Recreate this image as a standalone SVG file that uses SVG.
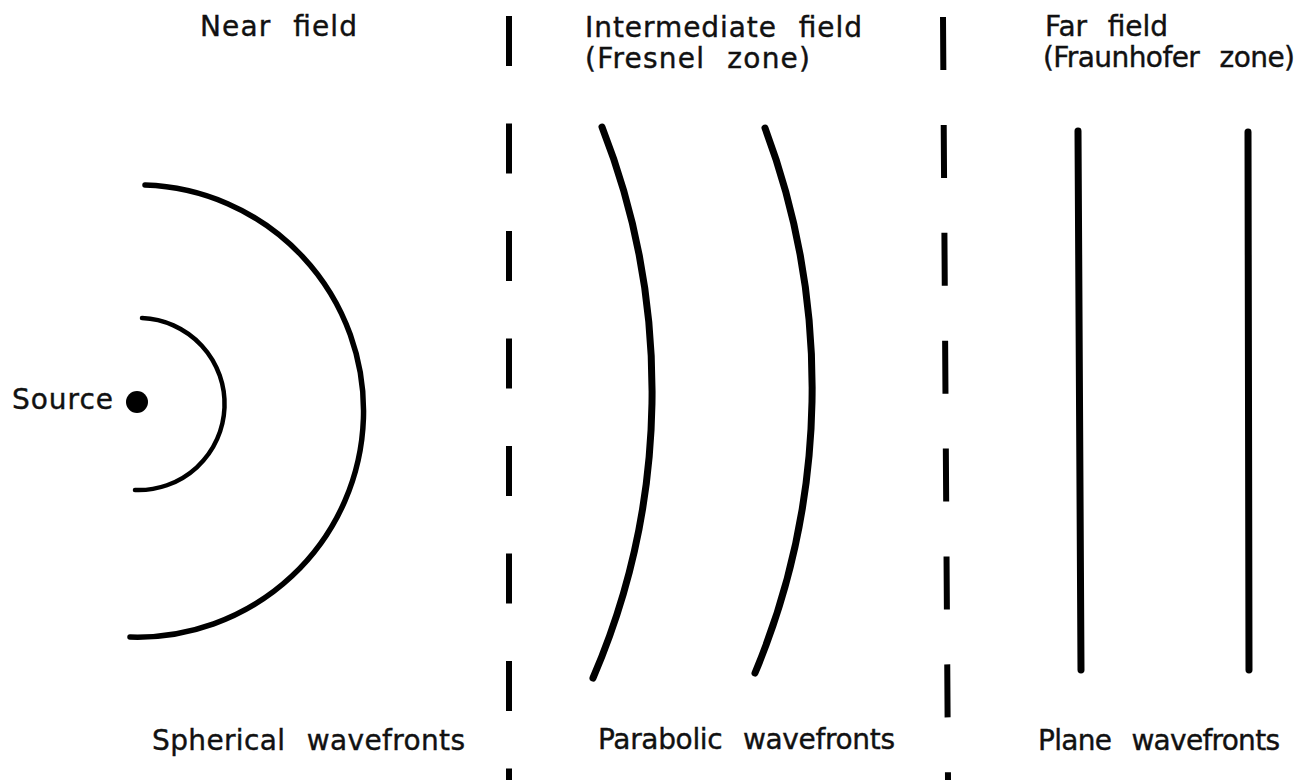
<svg xmlns="http://www.w3.org/2000/svg" width="1300" height="780" viewBox="0 0 1300 780">
<style>
.lbl{font-family:"DejaVu Sans","Liberation Sans",sans-serif;font-size:28px;fill:#111;stroke:#111;stroke-width:0.4;word-spacing:12px}
.wave{fill:none;stroke:#000;stroke-linecap:round}
.bound{fill:none;stroke:#000;stroke-width:6}
</style>
<rect width="1300" height="780" fill="#fff"/>
<g id="boundaries">
<line class="bound" x1="509" y1="16" x2="509" y2="780" stroke-dasharray="50 57.5"/>
<line class="bound" x1="943" y1="17" x2="948" y2="780" stroke-dasharray="53 54.9"/>
</g>
<g id="headings">
<text class="lbl" x="200" y="36" textLength="157" lengthAdjust="spacing">Near field</text>
<text class="lbl" x="585" y="37" textLength="277" lengthAdjust="spacing">Intermediate field</text>
<text class="lbl" x="585" y="68" textLength="225" lengthAdjust="spacing">(Fresnel zone)</text>
<text class="lbl" x="1045" y="36" textLength="123" lengthAdjust="spacing">Far field</text>
<text class="lbl" x="1043" y="67" textLength="252" lengthAdjust="spacing">(Fraunhofer zone)</text>
</g>
<g id="source">
<circle cx="137" cy="402" r="11" fill="#000"/>
<text class="lbl" x="12" y="409" textLength="101" lengthAdjust="spacing">Source</text>
</g>
<g id="spherical">
<path class="wave" stroke-width="4.5" d="M142,318 A86,86 0 0 1 135,490"/>
<path class="wave" stroke-width="5.5" d="M145,185 A226,226 0 0 1 130,637"/>
<text class="lbl" x="152" y="750" textLength="313" lengthAdjust="spacing">Spherical wavefronts</text>
</g>
<g id="parabolic">
<path class="wave" stroke-width="7" d="M602,127 A724,724 0 0 1 593,678"/>
<path class="wave" stroke-width="7" d="M765,128 A740,740 0 0 1 755,673"/>
<text class="lbl" x="598" y="749" textLength="297" lengthAdjust="spacing">Parabolic wavefronts</text>
</g>
<g id="plane">
<line class="wave" stroke-width="7" x1="1078" y1="131" x2="1081" y2="670"/>
<line class="wave" stroke-width="7" x1="1248" y1="132" x2="1249" y2="670"/>
<text class="lbl" x="1038" y="750" textLength="242" lengthAdjust="spacing">Plane wavefronts</text>
</g>
</svg>
